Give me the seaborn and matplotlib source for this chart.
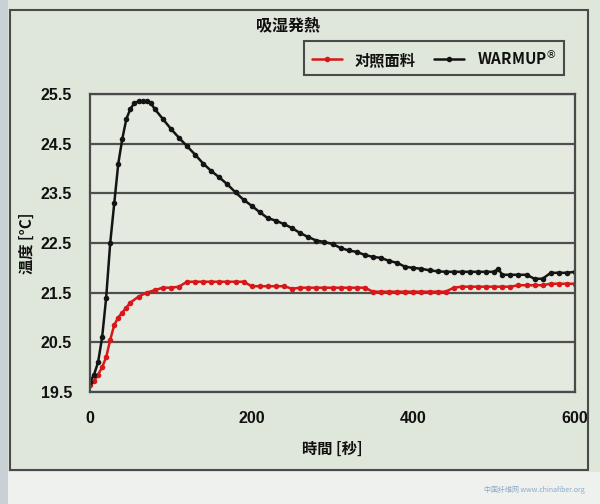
import numpy as np
import pandas as pd
import matplotlib
matplotlib.use("Agg")
import matplotlib.pyplot as plt
from matplotlib.patches import Rectangle
import seaborn as sns

# ---- data ----
warm_t = [0, 5, 10, 15, 20, 25, 30, 35, 40, 45, 50, 55, 60, 65, 70, 75, 80, 90, 100,
          110, 120, 130, 140, 150, 160, 170, 180, 190, 200, 210, 220, 230, 240, 250,
          260, 270, 280, 290, 300, 310, 320, 330, 340, 350, 360, 370, 380, 390, 400,
          410, 420, 430, 440, 450, 460, 470, 480, 490, 500, 505, 510, 520, 530, 540,
          550, 560, 570, 580, 590, 600]
warm_v = [19.7, 19.85, 20.1, 20.6, 21.4, 22.5, 23.3, 24.1, 24.6, 25.0, 25.2, 25.32,
          25.35, 25.35, 25.35, 25.32, 25.2, 25.0, 24.8, 24.62, 24.45, 24.28, 24.1,
          23.95, 23.82, 23.68, 23.52, 23.37, 23.25, 23.12, 23.0, 22.95, 22.88, 22.8,
          22.7, 22.62, 22.55, 22.52, 22.48, 22.4, 22.35, 22.32, 22.26, 22.22, 22.2,
          22.14, 22.1, 22.02, 22.0, 21.98, 21.95, 21.93, 21.92, 21.92, 21.92, 21.92,
          21.92, 21.92, 21.92, 21.98, 21.86, 21.86, 21.86, 21.86, 21.78, 21.78, 21.9,
          21.9, 21.9, 21.92]
ctrl_t = [0, 5, 10, 15, 20, 25, 30, 35, 40, 45, 50, 60, 70, 80, 90, 100, 110, 120,
          130, 140, 150, 160, 170, 180, 190, 200, 210, 220, 230, 240, 250, 260, 270,
          280, 290, 300, 310, 320, 330, 340, 350, 360, 370, 380, 390, 400, 410, 420,
          430, 440, 450, 460, 470, 480, 490, 500, 510, 520, 530, 540, 550, 560, 570,
          580, 590, 600]
ctrl_v = [19.65, 19.72, 19.85, 20.0, 20.2, 20.55, 20.85, 21.0, 21.1, 21.2, 21.3,
          21.42, 21.5, 21.55, 21.6, 21.6, 21.62, 21.72, 21.72, 21.72, 21.72, 21.72,
          21.72, 21.72, 21.72, 21.63, 21.63, 21.63, 21.63, 21.63, 21.58, 21.6, 21.6,
          21.6, 21.6, 21.6, 21.6, 21.6, 21.6, 21.6, 21.52, 21.52, 21.52, 21.52, 21.52,
          21.52, 21.52, 21.52, 21.52, 21.52, 21.6, 21.62, 21.62, 21.62, 21.62, 21.62,
          21.62, 21.62, 21.65, 21.65, 21.65, 21.65, 21.68, 21.68, 21.68, 21.68]
series_names = ["对照面料", r"WARMUP$^{\circledR}$"]
series_colors = ["#d81818", "#141414"]
x_ticks = [0, 200, 400, 600]
y_ticks = [19.5, 20.5, 21.5, 22.5, 23.5, 24.5, 25.5]
title = "吸湿発熱"
x_label = "時間 [秒]"
y_label = "温度 [°C]"

df = pd.concat([
    pd.DataFrame({"t": ctrl_t, "v": ctrl_v, "s": series_names[0]}),
    pd.DataFrame({"t": warm_t, "v": warm_v, "s": series_names[1]}),
])

sns.set_theme(style="white")
plt.rcParams["font.family"] = ["Noto Sans CJK JP", "DejaVu Sans"]
plt.rcParams["mathtext.fontset"] = "dejavusans"
plt.rcParams["text.color"] = "#111111"
plt.rcParams["axes.labelcolor"] = "#111111"
plt.rcParams["xtick.color"] = "#111111"
plt.rcParams["ytick.color"] = "#111111"

bg = "#dfe6da"
fig = plt.figure(figsize=(6, 5.04), dpi=100, facecolor=bg)
# bottom light strip and left strip
fig.patches.append(Rectangle((0, 0), 1, 1 - 472 / 504, transform=fig.transFigure,
                             facecolor="#eef1ee", edgecolor="none", zorder=-1))
fig.patches.append(Rectangle((0, 0), 8 / 600, 1, transform=fig.transFigure,
                             facecolor="#c9d0d6", edgecolor="none", zorder=-1))
# outer frame
fig.patches.append(Rectangle((10 / 600, 1 - 470 / 504), (588 - 10) / 600, (470 - 10) / 504,
                             transform=fig.transFigure, facecolor="none",
                             edgecolor="#4a4a4a", linewidth=1.5, zorder=0))

ax = fig.add_axes([90 / 600, 1 - 392 / 504, (575 - 90) / 600, (392 - 94) / 504])
ax.set_facecolor("#e4eae0")

sns.lineplot(data=df, x="t", y="v", hue="s", palette=series_colors, marker="o",
             markersize=4, markeredgewidth=0, linewidth=1.8, ax=ax, legend=True)

ax.set_xlim(0, 600)
ax.set_ylim(19.5, 25.5)
ax.set_xticks(x_ticks)
ax.set_yticks(y_ticks)
ax.set_xticklabels([str(v) for v in x_ticks], fontsize=11.5, fontweight="bold",
                   family="Liberation Sans")
ax.set_yticklabels([f"{v:.1f}" for v in y_ticks], fontsize=11.5, fontweight="bold",
                   family="Liberation Sans")
ax.tick_params(axis="x", direction="in", length=5, width=1, color="#555555", pad=14)
ax.tick_params(axis="y", length=0, pad=13)
ax.grid(axis="y", color="#4f4f4f", linewidth=1.6)
ax.grid(axis="x", visible=False)
for sp in ax.spines.values():
    sp.set_color("#4a4a4a")
    sp.set_linewidth(1.6)

ax.set_xlabel(x_label, fontsize=11, fontweight="bold", labelpad=10)
ax.set_ylabel(y_label, fontsize=11, fontweight="bold", labelpad=4)
fig.text(288 / 600, 1 - 25 / 504, title, fontsize=11.5, fontweight="bold",
         ha="center", va="center")

handles, labels = ax.get_legend_handles_labels()
ax.legend(handles, labels, loc="upper right", bbox_to_anchor=(572 / 600, 1 - 33 / 504),
          bbox_transform=fig.transFigure, ncol=2, frameon=True, fancybox=False,
          facecolor=bg, edgecolor="#4a4a4a", framealpha=1, prop={"size": 11, "weight": "bold"},
          handlelength=2.0, columnspacing=1.2, borderpad=0.5)
ax.get_legend().get_frame().set_linewidth(1.5)

fig.text(585 / 600, 1 - 490 / 504, "中国纤维网 www.chinafiber.org", fontsize=5,
         color="#8aa8c8", ha="right", va="center")

fig.savefig("out.png", dpi=100, facecolor=fig.get_facecolor())
